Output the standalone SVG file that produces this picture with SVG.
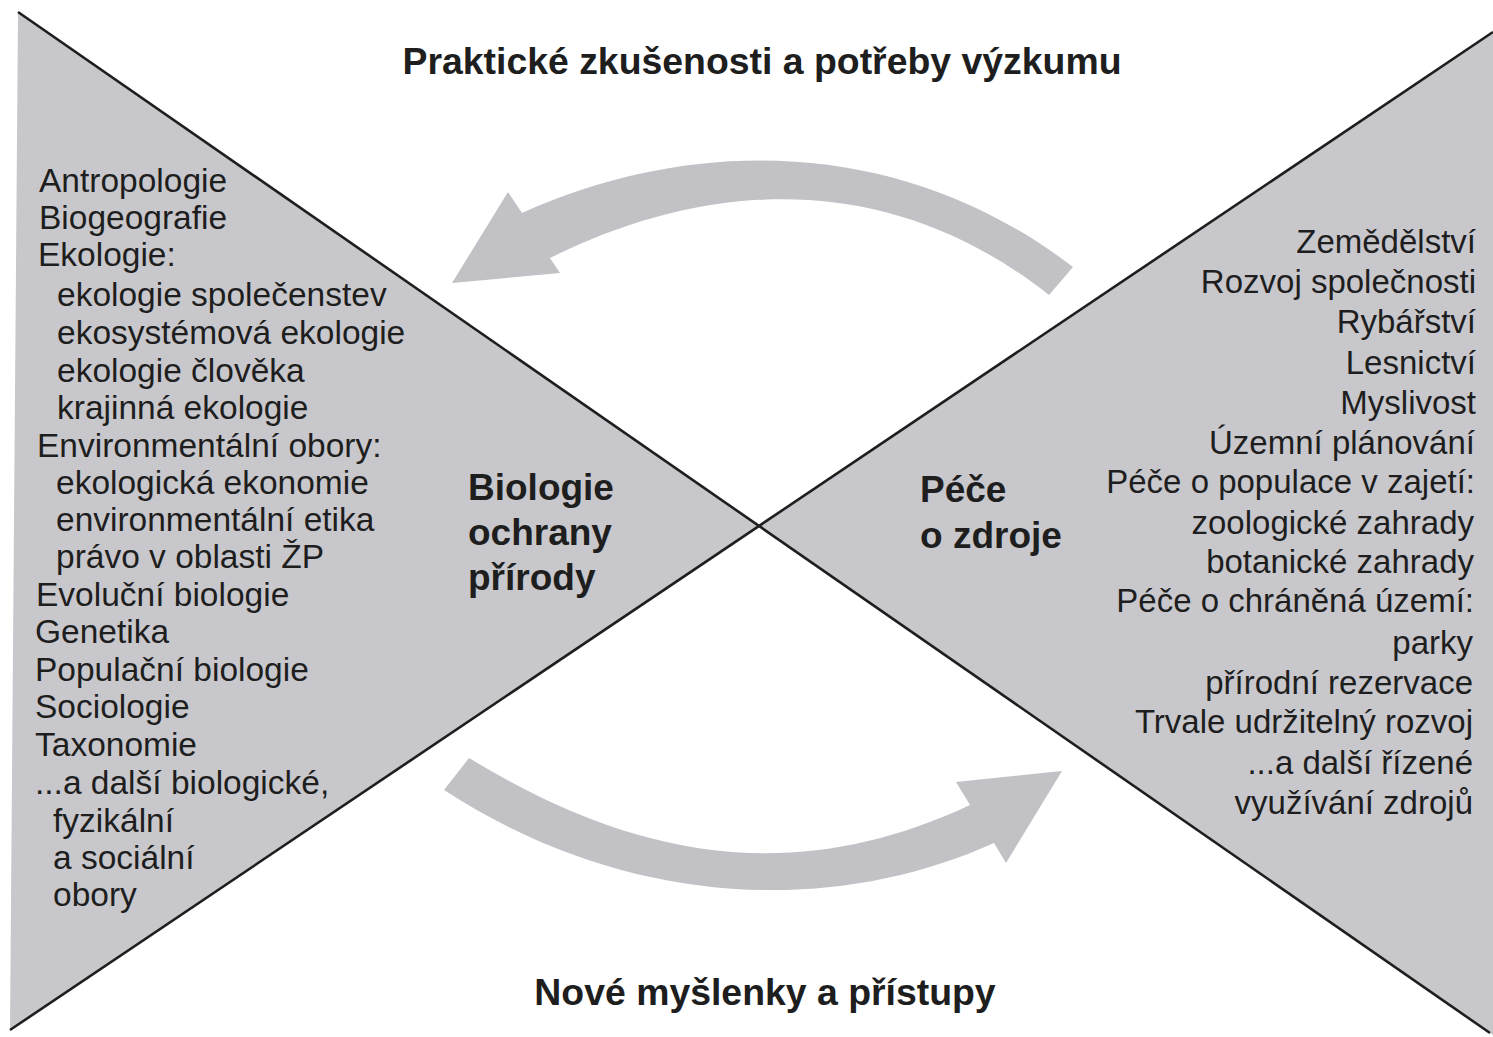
<svg xmlns="http://www.w3.org/2000/svg" width="1493" height="1037" viewBox="0 0 1493 1037">
<style>
.bg{fill:#ffffff}
.tri{fill:#c8c8cc;stroke:none}
.edge{stroke:#1e1e1e;stroke-width:2.6;fill:none}
.arrow{fill:#c2c2c6;stroke:none}
.t{font-family:"Liberation Sans",Arial,sans-serif;font-size:33px;fill:#1e1e1e}
.l{font-size:33.5px}
.r{text-anchor:end}
.b{font-family:"Liberation Sans",Arial,sans-serif;font-size:37px;font-weight:bold;fill:#1e1e1e}
.h{font-size:37.4px}
.c{text-anchor:middle}
</style>
<rect class="bg" x="0" y="0" width="1493" height="1037"/>
<g id="left-field">
<polygon class="tri" points="18,12 759,526 10,1030"/>
<text class="t l" x="39" y="192">Antropologie</text>
<text class="t l" x="39" y="229">Biogeografie</text>
<text class="t l" x="38" y="266">Ekologie:</text>
<text class="t l" x="57" y="306">ekologie společenstev</text>
<text class="t l" x="57" y="344">ekosystémová ekologie</text>
<text class="t l" x="57" y="382">ekologie člověka</text>
<text class="t l" x="57" y="419">krajinná ekologie</text>
<text class="t l" x="37" y="457">Environmentální obory:</text>
<text class="t l" x="56" y="494">ekologická ekonomie</text>
<text class="t l" x="56" y="531">environmentální etika</text>
<text class="t l" x="56" y="568">právo v oblasti ŽP</text>
<text class="t l" x="36" y="606">Evoluční biologie</text>
<text class="t l" x="35" y="643">Genetika</text>
<text class="t l" x="35" y="681">Populační biologie</text>
<text class="t l" x="35" y="718">Sociologie</text>
<text class="t l" x="35" y="756">Taxonomie</text>
<text class="t l" x="35" y="794">...a další biologické,</text>
<text class="t l" x="53" y="832">fyzikální</text>
<text class="t l" x="53" y="869">a sociální</text>
<text class="t l" x="53" y="906">obory</text>
</g>
<g id="left-label">
<text class="b" x="468" y="500">Biologie</text>
<text class="b" x="468" y="545">ochrany</text>
<text class="b" x="468" y="590">přírody</text>
</g>
<g id="right-field">
<polygon class="tri" points="1493,32 759,526 1493,1035"/>
<text class="t r" x="1476" y="253">Zemědělství</text>
<text class="t r" x="1476" y="293">Rozvoj společnosti</text>
<text class="t r" x="1476" y="333">Rybářství</text>
<text class="t r" x="1476" y="374">Lesnictví</text>
<text class="t r" x="1476" y="414">Myslivost</text>
<text class="t r" x="1475" y="454">Územní plánování</text>
<text class="t r" x="1475" y="493">Péče o populace v zajetí:</text>
<text class="t r" x="1474" y="534">zoologické zahrady</text>
<text class="t r" x="1474" y="573">botanické zahrady</text>
<text class="t r" x="1474" y="612">Péče o chráněná území:</text>
<text class="t r" x="1473" y="654">parky</text>
<text class="t r" x="1473" y="694">přírodní rezervace</text>
<text class="t r" x="1473" y="733">Trvale udržitelný rozvoj</text>
<text class="t r" x="1473" y="774">...a další řízené</text>
<text class="t r" x="1473" y="814">využívání zdrojů</text>
</g>
<g id="right-label">
<text class="b" x="920" y="502">Péče</text>
<text class="b" x="920" y="548">o zdroje</text>
</g>
<g id="top-label">
<text class="b h c" x="762" y="74">Praktické zkušenosti a potřeby výzkumu</text>
</g>
<g id="bottom-label">
<text class="b h c" x="765" y="1005">Nové myšlenky a přístupy</text>
</g>
<g id="connectors">
<line class="edge" x1="18" y1="12" x2="1490" y2="1033"/>
<line class="edge" x1="10" y1="1030" x2="1493" y2="32"/>
<path class="arrow" d="M452,283 L508,192 L522,213 C697,134 905,138 1073,267 L1049,295 C879,161 695,186 550,258 L560,273 Z"/>
<path class="arrow" d="M1062,771 L956,782 L970,805 C799,885 641,863 469,758 L444,790 C624,907 830,917 994,843 L1006,863 Z"/>
</g>
</svg>
